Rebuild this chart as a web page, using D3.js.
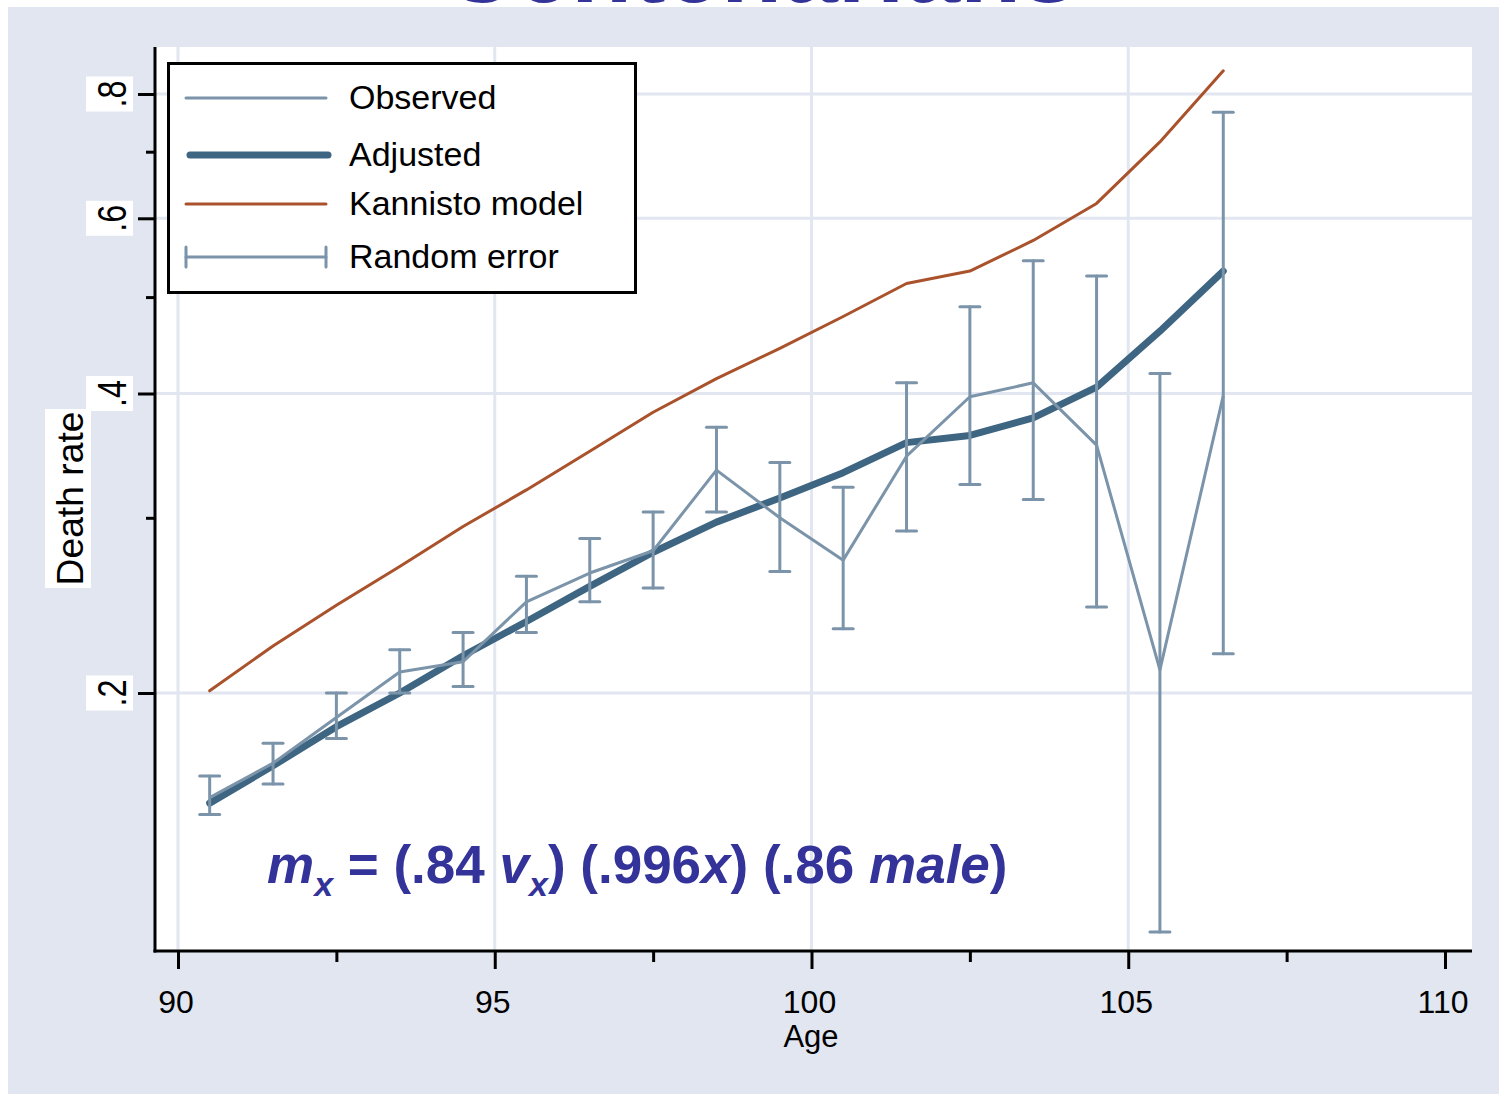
<!DOCTYPE html>
<html>
<head>
<meta charset="utf-8">
<script src="https://cdn.jsdelivr.net/npm/d3@7"></script>
<style>
  body { margin: 0; background: #fff; }
  svg text { font-family: "Liberation Sans", Arial, sans-serif; }
</style>
</head>
<body>
<div id="chart"></div>
<script>
// values (death rates, log scale)
var ages     = [90.5, 91.5, 92.5, 93.5, 94.5, 95.5, 96.5, 97.5, 98.5, 99.5, 100.5, 101.5, 102.5, 103.5, 104.5, 105.5, 106.5];
var observed = [.157, .170, .189, .210, .215, .247, .264, .278, .335, .300, .272, .346, .397, .410, .355, .211, .398];
var errLow   = [.151, .162, .180, .200, .203, .230, .247, .255, .304, .265, .232, .291, .324, .313, .244, .115, .219];
var errHigh  = [.165, .178, .200, .221, .230, .262, .286, .304, .370, .341, .322, .410, .489, .544, .525, .419, .767];
var adjusted = [.155, .169, .185, .200, .218, .236, .256, .277, .297, .314, .333, .357, .363, .378, .406, .462, .531];
var kannisto = [.201, .223, .245, .268, .294, .320, .350, .383, .414, .444, .478, .516, .531, .570, .621, .716, .844];

var xTicks = [90, 95, 100, 105, 110];
var xMinor = [92.5, 97.5, 102.5, 107.5];
var xGrid  = [90, 95, 100, 105];
var yTicks = [.2, .4, .6, .8];
var yMinor = [.3, .5, .7];
var yTickLabels = [".2", ".4", ".6", ".8"];
var legendLabels = ["Observed", "Adjusted", "Kannisto model", "Random error"];

var W = 1499, H = 1094;
var cObs = "#7b94aa", cAdj = "#3e6581", cKan = "#a9522b", cBlue = "#333399";
var plotL = 155, plotR = 1472, plotT = 47, plotB = 951;

var svg = d3.select("#chart").append("svg")
    .attr("width", W)
    .attr("height", H);

// title, cut off at the top as in the slide
svg.append("text")
    .attr("x", 760).attr("y", 2)
    .attr("text-anchor", "middle")
    .attr("font-size", 100).attr("font-weight", "bold")
    .attr("fill", cBlue)
    .text("Centenarians");

svg.append("rect")
    .attr("x", 8).attr("y", 7)
    .attr("width", W - 8).attr("height", H - 7)
    .attr("fill", "#e1e6f0");

svg.append("rect")
    .attr("x", plotL).attr("y", plotT)
    .attr("width", plotR - plotL).attr("height", plotB - plotT)
    .attr("fill", "#fff");

var x = d3.scaleLinear().domain([90, 110]).range([178, 1445]);
var y = d3.scaleLog().domain([.2, .8]).range([693, 94]);

var g = svg.append("g");

// grid
g.selectAll(".vgrid").data(xGrid).enter().append("line")
    .attr("x1", function(d) { return x(d); }).attr("x2", function(d) { return x(d); })
    .attr("y1", plotT).attr("y2", plotB)
    .attr("stroke", "#e1e6f0").attr("stroke-width", 3);
g.selectAll(".hgrid").data(yTicks).enter().append("line")
    .attr("x1", plotL).attr("x2", plotR)
    .attr("y1", function(d) { return y(d); }).attr("y2", function(d) { return y(d); })
    .attr("stroke", "#e1e6f0").attr("stroke-width", 3);

// axes ticks
function styleTicks(sel) {
  sel.select(".domain").remove();
  sel.selectAll("line").attr("stroke", "#000").attr("stroke-width", 3);
}
g.append("g").attr("transform", "translate(" + plotL + ",0)")
    .call(d3.axisLeft(y).tickValues(yTicks).tickSize(17).tickFormat(""))
    .call(styleTicks);
g.append("g").attr("transform", "translate(" + plotL + ",0)")
    .call(d3.axisLeft(y).tickValues(yMinor).tickSize(9).tickFormat(""))
    .call(styleTicks);
g.append("g").attr("transform", "translate(0," + plotB + ")")
    .call(d3.axisBottom(x).tickValues(xTicks).tickSize(18).tickFormat(""))
    .call(styleTicks);
g.append("g").attr("transform", "translate(0," + plotB + ")")
    .call(d3.axisBottom(x).tickValues(xMinor).tickSize(11).tickFormat(""))
    .call(styleTicks);

g.append("line").attr("x1", plotL).attr("x2", plotL).attr("y1", plotT).attr("y2", plotB + 1.5)
    .attr("stroke", "#000").attr("stroke-width", 3);
g.append("line").attr("x1", plotL - 1.5).attr("x2", plotR).attr("y1", plotB).attr("y2", plotB)
    .attr("stroke", "#000").attr("stroke-width", 3);

// y tick labels in white boxes, rotated
var yl = g.selectAll(".ylab").data(yTicks).enter().append("g")
    .attr("transform", function(d) { return "translate(0," + y(d) + ")"; });
yl.append("rect").attr("x", 86).attr("y", -17.5).attr("width", 47).attr("height", 35).attr("fill", "#fff");
yl.append("text")
    .attr("transform", "translate(126,0) rotate(-90)")
    .attr("text-anchor", "middle")
    .attr("font-size", 40)
    .attr("textLength", 27).attr("lengthAdjust", "spacingAndGlyphs")
    .text(function(d, i) { return yTickLabels[i]; });

g.append("rect").attr("x", 45).attr("y", 409).attr("width", 46).attr("height", 179).attr("fill", "#fff");
g.append("text")
    .attr("transform", "translate(83,498.5) rotate(-90)")
    .attr("text-anchor", "middle")
    .attr("font-size", 37)
    .attr("textLength", 174).attr("lengthAdjust", "spacingAndGlyphs")
    .text("Death rate");

// x tick labels
g.selectAll(".xlab").data(xTicks).enter().append("text")
    .attr("x", function(d) { return x(d) - 2; })
    .attr("y", 1013)
    .attr("text-anchor", "middle")
    .attr("font-size", 32)
    .text(function(d) { return d; });
g.append("text").attr("x", 811).attr("y", 1047)
    .attr("text-anchor", "middle").attr("font-size", 31)
    .text("Age");

// series
var line = function(vals) {
  return d3.line()
    .x(function(d, i) { return x(ages[i]); })
    .y(function(d) { return y(d); })(vals);
};

g.append("path").attr("d", line(adjusted))
    .attr("fill", "none").attr("stroke", cAdj).attr("stroke-width", 7)
    .attr("stroke-linecap", "round").attr("stroke-linejoin", "round");

g.append("path").attr("d", line(kannisto))
    .attr("fill", "none").attr("stroke", cKan).attr("stroke-width", 3)
    .attr("stroke-linecap", "round").attr("stroke-linejoin", "round");

g.append("path").attr("d", line(observed))
    .attr("fill", "none").attr("stroke", cObs).attr("stroke-width", 3)
    .attr("stroke-linejoin", "round");

var eb = g.selectAll(".err").data(ages).enter().append("g").attr("class", "err")
    .attr("stroke", cObs).attr("stroke-width", 3).attr("stroke-linecap", "round");
eb.append("line")
    .attr("x1", function(d) { return x(d); }).attr("x2", function(d) { return x(d); })
    .attr("y1", function(d, i) { return y(errLow[i]); })
    .attr("y2", function(d, i) { return y(errHigh[i]); });
eb.append("line")
    .attr("x1", function(d) { return x(d) - 10; }).attr("x2", function(d) { return x(d) + 10; })
    .attr("y1", function(d, i) { return y(errLow[i]); })
    .attr("y2", function(d, i) { return y(errLow[i]); });
eb.append("line")
    .attr("x1", function(d) { return x(d) - 10; }).attr("x2", function(d) { return x(d) + 10; })
    .attr("y1", function(d, i) { return y(errHigh[i]); })
    .attr("y2", function(d, i) { return y(errHigh[i]); });

// legend
var lg = g.append("g");
lg.append("rect").attr("x", 168.5).attr("y", 63.5).attr("width", 467).attr("height", 229)
    .attr("fill", "#fff").attr("stroke", "#000").attr("stroke-width", 3);
var rowY = [98, 155, 204, 257];
lg.append("line").attr("x1", 186).attr("x2", 326).attr("y1", rowY[0]).attr("y2", rowY[0])
    .attr("stroke", cObs).attr("stroke-width", 3).attr("stroke-linecap", "round");
lg.append("line").attr("x1", 190).attr("x2", 328).attr("y1", rowY[1]).attr("y2", rowY[1])
    .attr("stroke", cAdj).attr("stroke-width", 7).attr("stroke-linecap", "round");
lg.append("line").attr("x1", 186).attr("x2", 326).attr("y1", rowY[2]).attr("y2", rowY[2])
    .attr("stroke", cKan).attr("stroke-width", 3).attr("stroke-linecap", "round");
var le = lg.append("g").attr("stroke", cObs).attr("stroke-width", 3).attr("stroke-linecap", "round");
le.append("line").attr("x1", 186).attr("x2", 326).attr("y1", rowY[3]).attr("y2", rowY[3]);
le.append("line").attr("x1", 186).attr("x2", 186).attr("y1", rowY[3] - 10).attr("y2", rowY[3] + 10);
le.append("line").attr("x1", 326).attr("x2", 326).attr("y1", rowY[3] - 10).attr("y2", rowY[3] + 10);
lg.selectAll(".ltxt").data(legendLabels).enter().append("text")
    .attr("x", 349)
    .attr("y", function(d, i) { return rowY[i] + 11; })
    .attr("font-size", 34)
    .text(function(d) { return d; });

// formula
var f = g.append("text").attr("x", 267).attr("y", 883)
    .attr("font-size", 53).attr("font-weight", "bold").attr("fill", cBlue);
f.append("tspan").attr("font-style", "italic").text("m");
f.append("tspan").attr("font-style", "italic").attr("font-size", 34).attr("dy", 13).text("x");
f.append("tspan").attr("dy", -13).text(" = (.84 ");
f.append("tspan").attr("font-style", "italic").text("v");
f.append("tspan").attr("font-style", "italic").attr("font-size", 34).attr("dy", 13).text("x");
f.append("tspan").attr("dy", -13).text(") (.996");
f.append("tspan").attr("font-style", "italic").text("x");
f.append("tspan").text(") (.86 ");
f.append("tspan").attr("font-style", "italic").text("male");
f.append("tspan").text(")");
</script>
</body>
</html>
